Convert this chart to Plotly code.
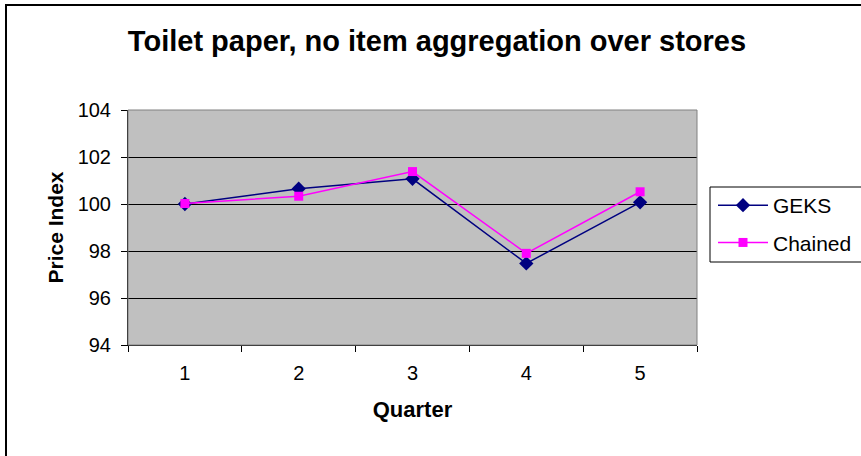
import plotly.graph_objects as go

quarters = ["1", "2", "3", "4", "5"]
geks = [100.0, 100.65, 101.07, 97.47, 100.07]
chained = [100.02, 100.33, 101.38, 97.9, 100.52]
y_ticks = [94, 96, 98, 100, 102, 104]

W, H = 861, 456
L, R, T, B = 128, 164, 110, 111
pw, ph = W - L - R, H - T - B

def px_x(x):
    return (x - L) / pw

def px_y(y):
    return (H - B - y) / ph

fig = go.Figure()
fig.add_trace(go.Scatter(
    x=quarters, y=geks, name="GEKS", mode="lines+markers", legendgroup="g",
    line=dict(color="#000080", width=1.5),
    marker=dict(symbol="diamond", size=11, color="#000080"),
))
fig.add_trace(go.Scatter(
    x=quarters, y=chained, name="Chained", mode="lines+markers", legendgroup="c",
    line=dict(color="#FF00FF", width=1.5),
    marker=dict(symbol="square", size=9, color="#FF00FF"),
))

font = "Arial, Liberation Sans, sans-serif"

fig.update_layout(
    width=W, height=H,
    margin=dict(l=L, r=R, t=T, b=B, autoexpand=False),
    paper_bgcolor="white",
    plot_bgcolor="#C0C0C0",
    font=dict(family=font, size=20, color="black"),
    title=dict(
        text="<b>Toilet paper, no item aggregation over stores</b>",
        x=437 / W, xanchor="center", y=1 - 41 / H, yanchor="middle",
        font=dict(size=29, family=font, color="black"),
    ),
    xaxis=dict(
        type="category", range=[-0.5, 4.5], tickson="boundaries",
        ticks="outside", ticklen=6,
        tickcolor="black", showgrid=False, showline=True, linecolor="black",
        linewidth=1, mirror=False, zeroline=False,
        tickfont=dict(size=20), ticklabelstandoff=10,
        title=dict(text="<b>Quarter</b>", font=dict(size=22), standoff=18),
    ),
    yaxis=dict(
        range=[94, 104], tickvals=y_ticks, ticks="outside", ticklen=6,
        tickcolor="black", showgrid=True, gridcolor="black", gridwidth=1,
        showline=True, linecolor="black", linewidth=1, zeroline=False,
        tickfont=dict(size=20), ticklabelstandoff=6,
        title=dict(text="<b>Price Index</b>", font=dict(size=21), standoff=8),
    ),
    legend=dict(
        x=px_x(713), y=px_y(185), xanchor="left", yanchor="top",
        borderwidth=0, bgcolor="rgba(0,0,0,0)",
        font=dict(size=21), itemwidth=50,
        traceorder="grouped", tracegroupgap=7,
    ),
    showlegend=True,
)

# plot-area frame, legend box and outer chart border
fig.add_shape(type="rect", xref="paper", yref="paper", x0=0, y0=0, x1=1, y1=1,
              line=dict(color="#808080", width=1), layer="above")
fig.add_shape(type="rect", xref="paper", yref="paper",
              x0=px_x(710), x1=px_x(880), y0=px_y(262), y1=px_y(187),
              line=dict(color="black", width=1), layer="below")
fig.add_shape(type="rect", xref="paper", yref="paper",
              x0=px_x(6), x1=px_x(880), y0=px_y(480), y1=px_y(5),
              line=dict(color="black", width=2))

fig.write_html("out.html")
